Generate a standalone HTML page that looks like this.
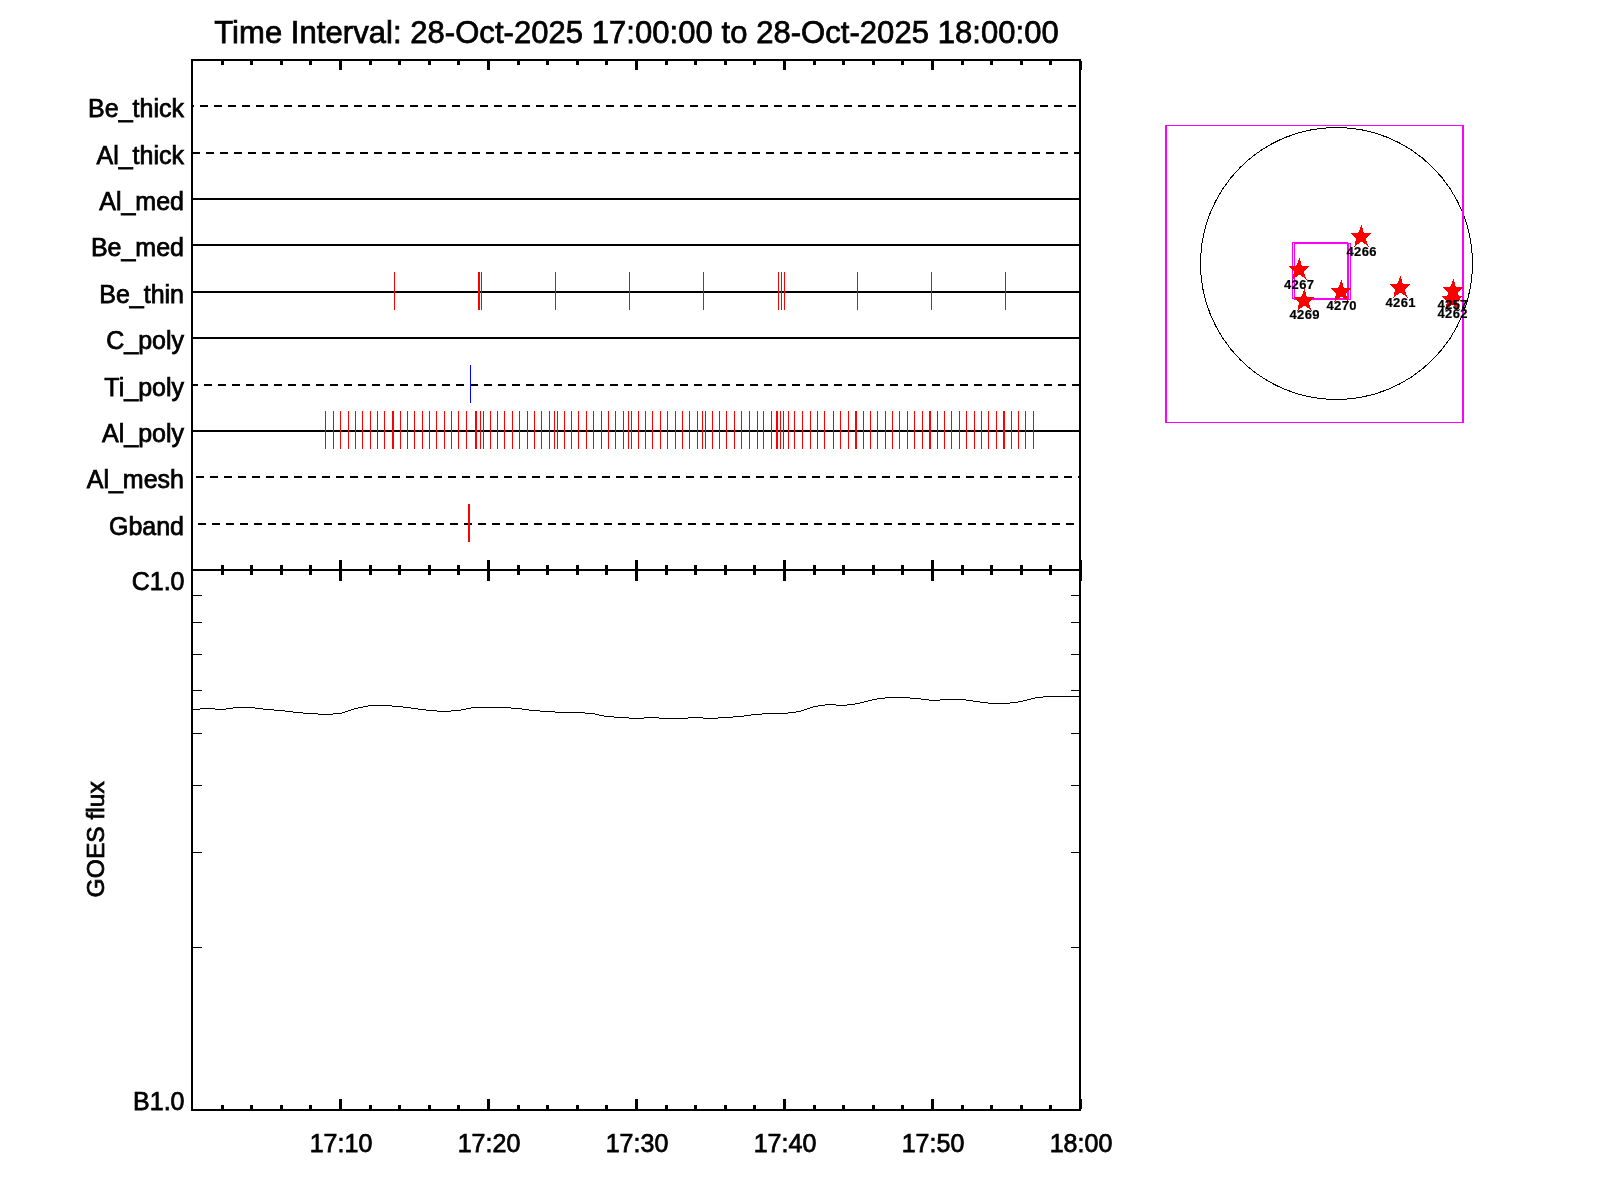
<!DOCTYPE html>
<html><head><meta charset="utf-8"><title>Plot</title>
<style>html,body{margin:0;padding:0;background:#fff;} svg{display:block;will-change:transform;}</style></head>
<body><svg width="1600" height="1200" viewBox="0 0 1600 1200">
<rect x="0" y="0" width="1600" height="1200" fill="#fff"/>
<g shape-rendering="crispEdges">
<rect x="191" y="59" width="890" height="2" fill="#000"/>
<rect x="191" y="59" width="2" height="1052" fill="#000"/>
<rect x="1079" y="59" width="2" height="1052" fill="#000"/>
<rect x="191" y="569" width="890" height="2" fill="#000"/>
<rect x="191" y="1109" width="890" height="2" fill="#000"/>
<rect x="221" y="61" width="3" height="4" fill="#000"/>
<rect x="221" y="565" width="3" height="10" fill="#000"/>
<rect x="221" y="1105" width="3" height="4" fill="#000"/>
<rect x="250" y="61" width="3" height="4" fill="#000"/>
<rect x="250" y="565" width="3" height="10" fill="#000"/>
<rect x="250" y="1105" width="3" height="4" fill="#000"/>
<rect x="280" y="61" width="3" height="4" fill="#000"/>
<rect x="280" y="565" width="3" height="10" fill="#000"/>
<rect x="280" y="1105" width="3" height="4" fill="#000"/>
<rect x="309" y="61" width="3" height="4" fill="#000"/>
<rect x="309" y="565" width="3" height="10" fill="#000"/>
<rect x="309" y="1105" width="3" height="4" fill="#000"/>
<rect x="339" y="61" width="3" height="9" fill="#000"/>
<rect x="339" y="560" width="3" height="21" fill="#000"/>
<rect x="339" y="1099" width="3" height="10" fill="#000"/>
<rect x="369" y="61" width="3" height="4" fill="#000"/>
<rect x="369" y="565" width="3" height="10" fill="#000"/>
<rect x="369" y="1105" width="3" height="4" fill="#000"/>
<rect x="398" y="61" width="3" height="4" fill="#000"/>
<rect x="398" y="565" width="3" height="10" fill="#000"/>
<rect x="398" y="1105" width="3" height="4" fill="#000"/>
<rect x="428" y="61" width="3" height="4" fill="#000"/>
<rect x="428" y="565" width="3" height="10" fill="#000"/>
<rect x="428" y="1105" width="3" height="4" fill="#000"/>
<rect x="457" y="61" width="3" height="4" fill="#000"/>
<rect x="457" y="565" width="3" height="10" fill="#000"/>
<rect x="457" y="1105" width="3" height="4" fill="#000"/>
<rect x="487" y="61" width="3" height="9" fill="#000"/>
<rect x="487" y="560" width="3" height="21" fill="#000"/>
<rect x="487" y="1099" width="3" height="10" fill="#000"/>
<rect x="517" y="61" width="3" height="4" fill="#000"/>
<rect x="517" y="565" width="3" height="10" fill="#000"/>
<rect x="517" y="1105" width="3" height="4" fill="#000"/>
<rect x="546" y="61" width="3" height="4" fill="#000"/>
<rect x="546" y="565" width="3" height="10" fill="#000"/>
<rect x="546" y="1105" width="3" height="4" fill="#000"/>
<rect x="576" y="61" width="3" height="4" fill="#000"/>
<rect x="576" y="565" width="3" height="10" fill="#000"/>
<rect x="576" y="1105" width="3" height="4" fill="#000"/>
<rect x="605" y="61" width="3" height="4" fill="#000"/>
<rect x="605" y="565" width="3" height="10" fill="#000"/>
<rect x="605" y="1105" width="3" height="4" fill="#000"/>
<rect x="635" y="61" width="3" height="9" fill="#000"/>
<rect x="635" y="560" width="3" height="21" fill="#000"/>
<rect x="635" y="1099" width="3" height="10" fill="#000"/>
<rect x="665" y="61" width="3" height="4" fill="#000"/>
<rect x="665" y="565" width="3" height="10" fill="#000"/>
<rect x="665" y="1105" width="3" height="4" fill="#000"/>
<rect x="694" y="61" width="3" height="4" fill="#000"/>
<rect x="694" y="565" width="3" height="10" fill="#000"/>
<rect x="694" y="1105" width="3" height="4" fill="#000"/>
<rect x="724" y="61" width="3" height="4" fill="#000"/>
<rect x="724" y="565" width="3" height="10" fill="#000"/>
<rect x="724" y="1105" width="3" height="4" fill="#000"/>
<rect x="753" y="61" width="3" height="4" fill="#000"/>
<rect x="753" y="565" width="3" height="10" fill="#000"/>
<rect x="753" y="1105" width="3" height="4" fill="#000"/>
<rect x="783" y="61" width="3" height="9" fill="#000"/>
<rect x="783" y="560" width="3" height="21" fill="#000"/>
<rect x="783" y="1099" width="3" height="10" fill="#000"/>
<rect x="813" y="61" width="3" height="4" fill="#000"/>
<rect x="813" y="565" width="3" height="10" fill="#000"/>
<rect x="813" y="1105" width="3" height="4" fill="#000"/>
<rect x="842" y="61" width="3" height="4" fill="#000"/>
<rect x="842" y="565" width="3" height="10" fill="#000"/>
<rect x="842" y="1105" width="3" height="4" fill="#000"/>
<rect x="872" y="61" width="3" height="4" fill="#000"/>
<rect x="872" y="565" width="3" height="10" fill="#000"/>
<rect x="872" y="1105" width="3" height="4" fill="#000"/>
<rect x="901" y="61" width="3" height="4" fill="#000"/>
<rect x="901" y="565" width="3" height="10" fill="#000"/>
<rect x="901" y="1105" width="3" height="4" fill="#000"/>
<rect x="931" y="61" width="3" height="9" fill="#000"/>
<rect x="931" y="560" width="3" height="21" fill="#000"/>
<rect x="931" y="1099" width="3" height="10" fill="#000"/>
<rect x="961" y="61" width="3" height="4" fill="#000"/>
<rect x="961" y="565" width="3" height="10" fill="#000"/>
<rect x="961" y="1105" width="3" height="4" fill="#000"/>
<rect x="990" y="61" width="3" height="4" fill="#000"/>
<rect x="990" y="565" width="3" height="10" fill="#000"/>
<rect x="990" y="1105" width="3" height="4" fill="#000"/>
<rect x="1020" y="61" width="3" height="4" fill="#000"/>
<rect x="1020" y="565" width="3" height="10" fill="#000"/>
<rect x="1020" y="1105" width="3" height="4" fill="#000"/>
<rect x="1049" y="61" width="3" height="4" fill="#000"/>
<rect x="1049" y="565" width="3" height="10" fill="#000"/>
<rect x="1049" y="1105" width="3" height="4" fill="#000"/>
<rect x="1079" y="61" width="3" height="9" fill="#000"/>
<rect x="1079" y="560" width="3" height="21" fill="#000"/>
<rect x="1079" y="1099" width="3" height="10" fill="#000"/>
<rect x="193" y="947" width="9" height="1" fill="#000"/>
<rect x="1071" y="947" width="8" height="1" fill="#000"/>
<rect x="193" y="852" width="9" height="1" fill="#000"/>
<rect x="1071" y="852" width="8" height="1" fill="#000"/>
<rect x="193" y="785" width="9" height="1" fill="#000"/>
<rect x="1071" y="785" width="8" height="1" fill="#000"/>
<rect x="193" y="733" width="9" height="1" fill="#000"/>
<rect x="1071" y="733" width="8" height="1" fill="#000"/>
<rect x="193" y="690" width="9" height="1" fill="#000"/>
<rect x="1071" y="690" width="8" height="1" fill="#000"/>
<rect x="193" y="654" width="9" height="1" fill="#000"/>
<rect x="1071" y="654" width="8" height="1" fill="#000"/>
<rect x="193" y="622" width="9" height="1" fill="#000"/>
<rect x="1071" y="622" width="8" height="1" fill="#000"/>
<rect x="193" y="595" width="9" height="1" fill="#000"/>
<rect x="1071" y="595" width="8" height="1" fill="#000"/>
<rect x="193" y="105" width="1" height="2" fill="#000"/>
<rect x="200" y="105" width="8" height="2" fill="#000"/>
<rect x="214" y="105" width="8" height="2" fill="#000"/>
<rect x="228" y="105" width="8" height="2" fill="#000"/>
<rect x="242" y="105" width="8" height="2" fill="#000"/>
<rect x="256" y="105" width="8" height="2" fill="#000"/>
<rect x="270" y="105" width="8" height="2" fill="#000"/>
<rect x="284" y="105" width="8" height="2" fill="#000"/>
<rect x="298" y="105" width="8" height="2" fill="#000"/>
<rect x="312" y="105" width="8" height="2" fill="#000"/>
<rect x="326" y="105" width="8" height="2" fill="#000"/>
<rect x="340" y="105" width="8" height="2" fill="#000"/>
<rect x="354" y="105" width="8" height="2" fill="#000"/>
<rect x="368" y="105" width="8" height="2" fill="#000"/>
<rect x="382" y="105" width="8" height="2" fill="#000"/>
<rect x="396" y="105" width="8" height="2" fill="#000"/>
<rect x="410" y="105" width="8" height="2" fill="#000"/>
<rect x="424" y="105" width="8" height="2" fill="#000"/>
<rect x="438" y="105" width="8" height="2" fill="#000"/>
<rect x="452" y="105" width="8" height="2" fill="#000"/>
<rect x="466" y="105" width="8" height="2" fill="#000"/>
<rect x="480" y="105" width="8" height="2" fill="#000"/>
<rect x="494" y="105" width="8" height="2" fill="#000"/>
<rect x="508" y="105" width="8" height="2" fill="#000"/>
<rect x="522" y="105" width="8" height="2" fill="#000"/>
<rect x="536" y="105" width="8" height="2" fill="#000"/>
<rect x="550" y="105" width="8" height="2" fill="#000"/>
<rect x="564" y="105" width="8" height="2" fill="#000"/>
<rect x="578" y="105" width="8" height="2" fill="#000"/>
<rect x="592" y="105" width="8" height="2" fill="#000"/>
<rect x="606" y="105" width="8" height="2" fill="#000"/>
<rect x="620" y="105" width="8" height="2" fill="#000"/>
<rect x="634" y="105" width="8" height="2" fill="#000"/>
<rect x="648" y="105" width="8" height="2" fill="#000"/>
<rect x="662" y="105" width="8" height="2" fill="#000"/>
<rect x="676" y="105" width="8" height="2" fill="#000"/>
<rect x="690" y="105" width="8" height="2" fill="#000"/>
<rect x="704" y="105" width="8" height="2" fill="#000"/>
<rect x="718" y="105" width="8" height="2" fill="#000"/>
<rect x="732" y="105" width="8" height="2" fill="#000"/>
<rect x="746" y="105" width="8" height="2" fill="#000"/>
<rect x="760" y="105" width="8" height="2" fill="#000"/>
<rect x="774" y="105" width="8" height="2" fill="#000"/>
<rect x="788" y="105" width="8" height="2" fill="#000"/>
<rect x="802" y="105" width="8" height="2" fill="#000"/>
<rect x="816" y="105" width="8" height="2" fill="#000"/>
<rect x="830" y="105" width="8" height="2" fill="#000"/>
<rect x="844" y="105" width="8" height="2" fill="#000"/>
<rect x="858" y="105" width="8" height="2" fill="#000"/>
<rect x="872" y="105" width="8" height="2" fill="#000"/>
<rect x="886" y="105" width="8" height="2" fill="#000"/>
<rect x="900" y="105" width="8" height="2" fill="#000"/>
<rect x="914" y="105" width="8" height="2" fill="#000"/>
<rect x="928" y="105" width="8" height="2" fill="#000"/>
<rect x="942" y="105" width="8" height="2" fill="#000"/>
<rect x="956" y="105" width="8" height="2" fill="#000"/>
<rect x="970" y="105" width="8" height="2" fill="#000"/>
<rect x="984" y="105" width="8" height="2" fill="#000"/>
<rect x="998" y="105" width="8" height="2" fill="#000"/>
<rect x="1012" y="105" width="8" height="2" fill="#000"/>
<rect x="1026" y="105" width="8" height="2" fill="#000"/>
<rect x="1040" y="105" width="8" height="2" fill="#000"/>
<rect x="1054" y="105" width="8" height="2" fill="#000"/>
<rect x="1068" y="105" width="8" height="2" fill="#000"/>
<rect x="193" y="152" width="7" height="2" fill="#000"/>
<rect x="206" y="152" width="8" height="2" fill="#000"/>
<rect x="220" y="152" width="8" height="2" fill="#000"/>
<rect x="234" y="152" width="8" height="2" fill="#000"/>
<rect x="248" y="152" width="8" height="2" fill="#000"/>
<rect x="262" y="152" width="8" height="2" fill="#000"/>
<rect x="276" y="152" width="8" height="2" fill="#000"/>
<rect x="290" y="152" width="8" height="2" fill="#000"/>
<rect x="304" y="152" width="8" height="2" fill="#000"/>
<rect x="318" y="152" width="8" height="2" fill="#000"/>
<rect x="332" y="152" width="8" height="2" fill="#000"/>
<rect x="346" y="152" width="8" height="2" fill="#000"/>
<rect x="360" y="152" width="8" height="2" fill="#000"/>
<rect x="374" y="152" width="8" height="2" fill="#000"/>
<rect x="388" y="152" width="8" height="2" fill="#000"/>
<rect x="402" y="152" width="8" height="2" fill="#000"/>
<rect x="416" y="152" width="8" height="2" fill="#000"/>
<rect x="430" y="152" width="8" height="2" fill="#000"/>
<rect x="444" y="152" width="8" height="2" fill="#000"/>
<rect x="458" y="152" width="8" height="2" fill="#000"/>
<rect x="472" y="152" width="8" height="2" fill="#000"/>
<rect x="486" y="152" width="8" height="2" fill="#000"/>
<rect x="500" y="152" width="8" height="2" fill="#000"/>
<rect x="514" y="152" width="8" height="2" fill="#000"/>
<rect x="528" y="152" width="8" height="2" fill="#000"/>
<rect x="542" y="152" width="8" height="2" fill="#000"/>
<rect x="556" y="152" width="8" height="2" fill="#000"/>
<rect x="570" y="152" width="8" height="2" fill="#000"/>
<rect x="584" y="152" width="8" height="2" fill="#000"/>
<rect x="598" y="152" width="8" height="2" fill="#000"/>
<rect x="612" y="152" width="8" height="2" fill="#000"/>
<rect x="626" y="152" width="8" height="2" fill="#000"/>
<rect x="640" y="152" width="8" height="2" fill="#000"/>
<rect x="654" y="152" width="8" height="2" fill="#000"/>
<rect x="668" y="152" width="8" height="2" fill="#000"/>
<rect x="682" y="152" width="8" height="2" fill="#000"/>
<rect x="696" y="152" width="8" height="2" fill="#000"/>
<rect x="710" y="152" width="8" height="2" fill="#000"/>
<rect x="724" y="152" width="8" height="2" fill="#000"/>
<rect x="738" y="152" width="8" height="2" fill="#000"/>
<rect x="752" y="152" width="8" height="2" fill="#000"/>
<rect x="766" y="152" width="8" height="2" fill="#000"/>
<rect x="780" y="152" width="8" height="2" fill="#000"/>
<rect x="794" y="152" width="8" height="2" fill="#000"/>
<rect x="808" y="152" width="8" height="2" fill="#000"/>
<rect x="822" y="152" width="8" height="2" fill="#000"/>
<rect x="836" y="152" width="8" height="2" fill="#000"/>
<rect x="850" y="152" width="8" height="2" fill="#000"/>
<rect x="864" y="152" width="8" height="2" fill="#000"/>
<rect x="878" y="152" width="8" height="2" fill="#000"/>
<rect x="892" y="152" width="8" height="2" fill="#000"/>
<rect x="906" y="152" width="8" height="2" fill="#000"/>
<rect x="920" y="152" width="8" height="2" fill="#000"/>
<rect x="934" y="152" width="8" height="2" fill="#000"/>
<rect x="948" y="152" width="8" height="2" fill="#000"/>
<rect x="962" y="152" width="8" height="2" fill="#000"/>
<rect x="976" y="152" width="8" height="2" fill="#000"/>
<rect x="990" y="152" width="8" height="2" fill="#000"/>
<rect x="1004" y="152" width="8" height="2" fill="#000"/>
<rect x="1018" y="152" width="8" height="2" fill="#000"/>
<rect x="1032" y="152" width="8" height="2" fill="#000"/>
<rect x="1046" y="152" width="8" height="2" fill="#000"/>
<rect x="1060" y="152" width="8" height="2" fill="#000"/>
<rect x="1074" y="152" width="5" height="2" fill="#000"/>
<rect x="193" y="198" width="886" height="2" fill="#000"/>
<rect x="193" y="244" width="886" height="2" fill="#000"/>
<rect x="193" y="291" width="886" height="2" fill="#000"/>
<rect x="193" y="337" width="886" height="2" fill="#000"/>
<rect x="193" y="384" width="5" height="2" fill="#000"/>
<rect x="204" y="384" width="8" height="2" fill="#000"/>
<rect x="218" y="384" width="8" height="2" fill="#000"/>
<rect x="232" y="384" width="8" height="2" fill="#000"/>
<rect x="246" y="384" width="8" height="2" fill="#000"/>
<rect x="260" y="384" width="8" height="2" fill="#000"/>
<rect x="274" y="384" width="8" height="2" fill="#000"/>
<rect x="288" y="384" width="8" height="2" fill="#000"/>
<rect x="302" y="384" width="8" height="2" fill="#000"/>
<rect x="316" y="384" width="8" height="2" fill="#000"/>
<rect x="330" y="384" width="8" height="2" fill="#000"/>
<rect x="344" y="384" width="8" height="2" fill="#000"/>
<rect x="358" y="384" width="8" height="2" fill="#000"/>
<rect x="372" y="384" width="8" height="2" fill="#000"/>
<rect x="386" y="384" width="8" height="2" fill="#000"/>
<rect x="400" y="384" width="8" height="2" fill="#000"/>
<rect x="414" y="384" width="8" height="2" fill="#000"/>
<rect x="428" y="384" width="8" height="2" fill="#000"/>
<rect x="442" y="384" width="8" height="2" fill="#000"/>
<rect x="456" y="384" width="8" height="2" fill="#000"/>
<rect x="470" y="384" width="8" height="2" fill="#000"/>
<rect x="484" y="384" width="8" height="2" fill="#000"/>
<rect x="498" y="384" width="8" height="2" fill="#000"/>
<rect x="512" y="384" width="8" height="2" fill="#000"/>
<rect x="526" y="384" width="8" height="2" fill="#000"/>
<rect x="540" y="384" width="8" height="2" fill="#000"/>
<rect x="554" y="384" width="8" height="2" fill="#000"/>
<rect x="568" y="384" width="8" height="2" fill="#000"/>
<rect x="582" y="384" width="8" height="2" fill="#000"/>
<rect x="596" y="384" width="8" height="2" fill="#000"/>
<rect x="610" y="384" width="8" height="2" fill="#000"/>
<rect x="624" y="384" width="8" height="2" fill="#000"/>
<rect x="638" y="384" width="8" height="2" fill="#000"/>
<rect x="652" y="384" width="8" height="2" fill="#000"/>
<rect x="666" y="384" width="8" height="2" fill="#000"/>
<rect x="680" y="384" width="8" height="2" fill="#000"/>
<rect x="694" y="384" width="8" height="2" fill="#000"/>
<rect x="708" y="384" width="8" height="2" fill="#000"/>
<rect x="722" y="384" width="8" height="2" fill="#000"/>
<rect x="736" y="384" width="8" height="2" fill="#000"/>
<rect x="750" y="384" width="8" height="2" fill="#000"/>
<rect x="764" y="384" width="8" height="2" fill="#000"/>
<rect x="778" y="384" width="8" height="2" fill="#000"/>
<rect x="792" y="384" width="8" height="2" fill="#000"/>
<rect x="806" y="384" width="8" height="2" fill="#000"/>
<rect x="820" y="384" width="8" height="2" fill="#000"/>
<rect x="834" y="384" width="8" height="2" fill="#000"/>
<rect x="848" y="384" width="8" height="2" fill="#000"/>
<rect x="862" y="384" width="8" height="2" fill="#000"/>
<rect x="876" y="384" width="8" height="2" fill="#000"/>
<rect x="890" y="384" width="8" height="2" fill="#000"/>
<rect x="904" y="384" width="8" height="2" fill="#000"/>
<rect x="918" y="384" width="8" height="2" fill="#000"/>
<rect x="932" y="384" width="8" height="2" fill="#000"/>
<rect x="946" y="384" width="8" height="2" fill="#000"/>
<rect x="960" y="384" width="8" height="2" fill="#000"/>
<rect x="974" y="384" width="8" height="2" fill="#000"/>
<rect x="988" y="384" width="8" height="2" fill="#000"/>
<rect x="1002" y="384" width="8" height="2" fill="#000"/>
<rect x="1016" y="384" width="8" height="2" fill="#000"/>
<rect x="1030" y="384" width="8" height="2" fill="#000"/>
<rect x="1044" y="384" width="8" height="2" fill="#000"/>
<rect x="1058" y="384" width="8" height="2" fill="#000"/>
<rect x="1072" y="384" width="7" height="2" fill="#000"/>
<rect x="193" y="430" width="886" height="2" fill="#000"/>
<rect x="196" y="476" width="8" height="2" fill="#000"/>
<rect x="210" y="476" width="8" height="2" fill="#000"/>
<rect x="224" y="476" width="8" height="2" fill="#000"/>
<rect x="238" y="476" width="8" height="2" fill="#000"/>
<rect x="252" y="476" width="8" height="2" fill="#000"/>
<rect x="266" y="476" width="8" height="2" fill="#000"/>
<rect x="280" y="476" width="8" height="2" fill="#000"/>
<rect x="294" y="476" width="8" height="2" fill="#000"/>
<rect x="308" y="476" width="8" height="2" fill="#000"/>
<rect x="322" y="476" width="8" height="2" fill="#000"/>
<rect x="336" y="476" width="8" height="2" fill="#000"/>
<rect x="350" y="476" width="8" height="2" fill="#000"/>
<rect x="364" y="476" width="8" height="2" fill="#000"/>
<rect x="378" y="476" width="8" height="2" fill="#000"/>
<rect x="392" y="476" width="8" height="2" fill="#000"/>
<rect x="406" y="476" width="8" height="2" fill="#000"/>
<rect x="420" y="476" width="8" height="2" fill="#000"/>
<rect x="434" y="476" width="8" height="2" fill="#000"/>
<rect x="448" y="476" width="8" height="2" fill="#000"/>
<rect x="462" y="476" width="8" height="2" fill="#000"/>
<rect x="476" y="476" width="8" height="2" fill="#000"/>
<rect x="490" y="476" width="8" height="2" fill="#000"/>
<rect x="504" y="476" width="8" height="2" fill="#000"/>
<rect x="518" y="476" width="8" height="2" fill="#000"/>
<rect x="532" y="476" width="8" height="2" fill="#000"/>
<rect x="546" y="476" width="8" height="2" fill="#000"/>
<rect x="560" y="476" width="8" height="2" fill="#000"/>
<rect x="574" y="476" width="8" height="2" fill="#000"/>
<rect x="588" y="476" width="8" height="2" fill="#000"/>
<rect x="602" y="476" width="8" height="2" fill="#000"/>
<rect x="616" y="476" width="8" height="2" fill="#000"/>
<rect x="630" y="476" width="8" height="2" fill="#000"/>
<rect x="644" y="476" width="8" height="2" fill="#000"/>
<rect x="658" y="476" width="8" height="2" fill="#000"/>
<rect x="672" y="476" width="8" height="2" fill="#000"/>
<rect x="686" y="476" width="8" height="2" fill="#000"/>
<rect x="700" y="476" width="8" height="2" fill="#000"/>
<rect x="714" y="476" width="8" height="2" fill="#000"/>
<rect x="728" y="476" width="8" height="2" fill="#000"/>
<rect x="742" y="476" width="8" height="2" fill="#000"/>
<rect x="756" y="476" width="8" height="2" fill="#000"/>
<rect x="770" y="476" width="8" height="2" fill="#000"/>
<rect x="784" y="476" width="8" height="2" fill="#000"/>
<rect x="798" y="476" width="8" height="2" fill="#000"/>
<rect x="812" y="476" width="8" height="2" fill="#000"/>
<rect x="826" y="476" width="8" height="2" fill="#000"/>
<rect x="840" y="476" width="8" height="2" fill="#000"/>
<rect x="854" y="476" width="8" height="2" fill="#000"/>
<rect x="868" y="476" width="8" height="2" fill="#000"/>
<rect x="882" y="476" width="8" height="2" fill="#000"/>
<rect x="896" y="476" width="8" height="2" fill="#000"/>
<rect x="910" y="476" width="8" height="2" fill="#000"/>
<rect x="924" y="476" width="8" height="2" fill="#000"/>
<rect x="938" y="476" width="8" height="2" fill="#000"/>
<rect x="952" y="476" width="8" height="2" fill="#000"/>
<rect x="966" y="476" width="8" height="2" fill="#000"/>
<rect x="980" y="476" width="8" height="2" fill="#000"/>
<rect x="994" y="476" width="8" height="2" fill="#000"/>
<rect x="1008" y="476" width="8" height="2" fill="#000"/>
<rect x="1022" y="476" width="8" height="2" fill="#000"/>
<rect x="1036" y="476" width="8" height="2" fill="#000"/>
<rect x="1050" y="476" width="8" height="2" fill="#000"/>
<rect x="1064" y="476" width="8" height="2" fill="#000"/>
<rect x="1078" y="476" width="1" height="2" fill="#000"/>
<rect x="198" y="523" width="8" height="2" fill="#000"/>
<rect x="212" y="523" width="8" height="2" fill="#000"/>
<rect x="226" y="523" width="8" height="2" fill="#000"/>
<rect x="240" y="523" width="8" height="2" fill="#000"/>
<rect x="254" y="523" width="8" height="2" fill="#000"/>
<rect x="268" y="523" width="8" height="2" fill="#000"/>
<rect x="282" y="523" width="8" height="2" fill="#000"/>
<rect x="296" y="523" width="8" height="2" fill="#000"/>
<rect x="310" y="523" width="8" height="2" fill="#000"/>
<rect x="324" y="523" width="8" height="2" fill="#000"/>
<rect x="338" y="523" width="8" height="2" fill="#000"/>
<rect x="352" y="523" width="8" height="2" fill="#000"/>
<rect x="366" y="523" width="8" height="2" fill="#000"/>
<rect x="380" y="523" width="8" height="2" fill="#000"/>
<rect x="394" y="523" width="8" height="2" fill="#000"/>
<rect x="408" y="523" width="8" height="2" fill="#000"/>
<rect x="422" y="523" width="8" height="2" fill="#000"/>
<rect x="436" y="523" width="8" height="2" fill="#000"/>
<rect x="450" y="523" width="8" height="2" fill="#000"/>
<rect x="464" y="523" width="8" height="2" fill="#000"/>
<rect x="478" y="523" width="8" height="2" fill="#000"/>
<rect x="492" y="523" width="8" height="2" fill="#000"/>
<rect x="506" y="523" width="8" height="2" fill="#000"/>
<rect x="520" y="523" width="8" height="2" fill="#000"/>
<rect x="534" y="523" width="8" height="2" fill="#000"/>
<rect x="548" y="523" width="8" height="2" fill="#000"/>
<rect x="562" y="523" width="8" height="2" fill="#000"/>
<rect x="576" y="523" width="8" height="2" fill="#000"/>
<rect x="590" y="523" width="8" height="2" fill="#000"/>
<rect x="604" y="523" width="8" height="2" fill="#000"/>
<rect x="618" y="523" width="8" height="2" fill="#000"/>
<rect x="632" y="523" width="8" height="2" fill="#000"/>
<rect x="646" y="523" width="8" height="2" fill="#000"/>
<rect x="660" y="523" width="8" height="2" fill="#000"/>
<rect x="674" y="523" width="8" height="2" fill="#000"/>
<rect x="688" y="523" width="8" height="2" fill="#000"/>
<rect x="702" y="523" width="8" height="2" fill="#000"/>
<rect x="716" y="523" width="8" height="2" fill="#000"/>
<rect x="730" y="523" width="8" height="2" fill="#000"/>
<rect x="744" y="523" width="8" height="2" fill="#000"/>
<rect x="758" y="523" width="8" height="2" fill="#000"/>
<rect x="772" y="523" width="8" height="2" fill="#000"/>
<rect x="786" y="523" width="8" height="2" fill="#000"/>
<rect x="800" y="523" width="8" height="2" fill="#000"/>
<rect x="814" y="523" width="8" height="2" fill="#000"/>
<rect x="828" y="523" width="8" height="2" fill="#000"/>
<rect x="842" y="523" width="8" height="2" fill="#000"/>
<rect x="856" y="523" width="8" height="2" fill="#000"/>
<rect x="870" y="523" width="8" height="2" fill="#000"/>
<rect x="884" y="523" width="8" height="2" fill="#000"/>
<rect x="898" y="523" width="8" height="2" fill="#000"/>
<rect x="912" y="523" width="8" height="2" fill="#000"/>
<rect x="926" y="523" width="8" height="2" fill="#000"/>
<rect x="940" y="523" width="8" height="2" fill="#000"/>
<rect x="954" y="523" width="8" height="2" fill="#000"/>
<rect x="968" y="523" width="8" height="2" fill="#000"/>
<rect x="982" y="523" width="8" height="2" fill="#000"/>
<rect x="996" y="523" width="8" height="2" fill="#000"/>
<rect x="1010" y="523" width="8" height="2" fill="#000"/>
<rect x="1024" y="523" width="8" height="2" fill="#000"/>
<rect x="1038" y="523" width="8" height="2" fill="#000"/>
<rect x="1052" y="523" width="8" height="2" fill="#000"/>
<rect x="1066" y="523" width="8" height="2" fill="#000"/>
<rect x="394" y="272" width="1" height="38" fill="#ff0000"/>
<rect x="478" y="272" width="1" height="38" fill="#ff0000"/>
<rect x="479" y="272" width="1" height="38" fill="#ff0000"/>
<rect x="481" y="272" width="1" height="38" fill="#ff0000"/>
<rect x="555" y="272" width="1" height="38" fill="#ff0000"/>
<rect x="629" y="272" width="1" height="38" fill="#ff0000"/>
<rect x="703" y="272" width="1" height="38" fill="#ff0000"/>
<rect x="778" y="272" width="1" height="38" fill="#ff0000"/>
<rect x="781" y="272" width="1" height="38" fill="#ff0000"/>
<rect x="784" y="272" width="1" height="38" fill="#ff0000"/>
<rect x="857" y="272" width="1" height="38" fill="#ff0000"/>
<rect x="931" y="272" width="1" height="38" fill="#ff0000"/>
<rect x="1005" y="272" width="1" height="38" fill="#ff0000"/>
<rect x="325" y="411" width="1" height="38" fill="#ff0000"/>
<rect x="333" y="411" width="1" height="38" fill="#ff0000"/>
<rect x="340" y="411" width="1" height="38" fill="#ff0000"/>
<rect x="348" y="411" width="1" height="38" fill="#ff0000"/>
<rect x="355" y="411" width="1" height="38" fill="#ff0000"/>
<rect x="362" y="411" width="1" height="38" fill="#ff0000"/>
<rect x="370" y="411" width="1" height="38" fill="#ff0000"/>
<rect x="377" y="411" width="1" height="38" fill="#ff0000"/>
<rect x="384" y="411" width="1" height="38" fill="#ff0000"/>
<rect x="392" y="411" width="1" height="38" fill="#ff0000"/>
<rect x="393" y="411" width="1" height="38" fill="#ff0000"/>
<rect x="400" y="411" width="1" height="38" fill="#ff0000"/>
<rect x="407" y="411" width="1" height="38" fill="#ff0000"/>
<rect x="414" y="411" width="1" height="38" fill="#ff0000"/>
<rect x="422" y="411" width="1" height="38" fill="#ff0000"/>
<rect x="429" y="411" width="1" height="38" fill="#ff0000"/>
<rect x="436" y="411" width="1" height="38" fill="#ff0000"/>
<rect x="444" y="411" width="1" height="38" fill="#ff0000"/>
<rect x="451" y="411" width="1" height="38" fill="#ff0000"/>
<rect x="458" y="411" width="1" height="38" fill="#ff0000"/>
<rect x="466" y="411" width="1" height="38" fill="#ff0000"/>
<rect x="475" y="411" width="1" height="38" fill="#ff0000"/>
<rect x="476" y="411" width="1" height="38" fill="#ff0000"/>
<rect x="480" y="411" width="1" height="38" fill="#ff0000"/>
<rect x="483" y="411" width="1" height="38" fill="#ff0000"/>
<rect x="490" y="411" width="1" height="38" fill="#ff0000"/>
<rect x="497" y="411" width="1" height="38" fill="#ff0000"/>
<rect x="504" y="411" width="1" height="38" fill="#ff0000"/>
<rect x="512" y="411" width="1" height="38" fill="#ff0000"/>
<rect x="519" y="411" width="1" height="38" fill="#ff0000"/>
<rect x="527" y="411" width="1" height="38" fill="#ff0000"/>
<rect x="534" y="411" width="1" height="38" fill="#ff0000"/>
<rect x="541" y="411" width="1" height="38" fill="#ff0000"/>
<rect x="549" y="411" width="1" height="38" fill="#ff0000"/>
<rect x="554" y="411" width="1" height="38" fill="#ff0000"/>
<rect x="557" y="411" width="1" height="38" fill="#ff0000"/>
<rect x="564" y="411" width="1" height="38" fill="#ff0000"/>
<rect x="571" y="411" width="1" height="38" fill="#ff0000"/>
<rect x="578" y="411" width="1" height="38" fill="#ff0000"/>
<rect x="586" y="411" width="1" height="38" fill="#ff0000"/>
<rect x="593" y="411" width="1" height="38" fill="#ff0000"/>
<rect x="601" y="411" width="1" height="38" fill="#ff0000"/>
<rect x="608" y="411" width="1" height="38" fill="#ff0000"/>
<rect x="615" y="411" width="1" height="38" fill="#ff0000"/>
<rect x="623" y="411" width="1" height="38" fill="#ff0000"/>
<rect x="628" y="411" width="1" height="38" fill="#ff0000"/>
<rect x="631" y="411" width="1" height="38" fill="#ff0000"/>
<rect x="638" y="411" width="1" height="38" fill="#ff0000"/>
<rect x="645" y="411" width="1" height="38" fill="#ff0000"/>
<rect x="652" y="411" width="1" height="38" fill="#ff0000"/>
<rect x="660" y="411" width="1" height="38" fill="#ff0000"/>
<rect x="667" y="411" width="1" height="38" fill="#ff0000"/>
<rect x="675" y="411" width="1" height="38" fill="#ff0000"/>
<rect x="682" y="411" width="1" height="38" fill="#ff0000"/>
<rect x="689" y="411" width="1" height="38" fill="#ff0000"/>
<rect x="697" y="411" width="1" height="38" fill="#ff0000"/>
<rect x="702" y="411" width="1" height="38" fill="#ff0000"/>
<rect x="705" y="411" width="1" height="38" fill="#ff0000"/>
<rect x="712" y="411" width="1" height="38" fill="#ff0000"/>
<rect x="719" y="411" width="1" height="38" fill="#ff0000"/>
<rect x="726" y="411" width="1" height="38" fill="#ff0000"/>
<rect x="734" y="411" width="1" height="38" fill="#ff0000"/>
<rect x="741" y="411" width="1" height="38" fill="#ff0000"/>
<rect x="749" y="411" width="1" height="38" fill="#ff0000"/>
<rect x="757" y="411" width="1" height="38" fill="#ff0000"/>
<rect x="763" y="411" width="1" height="38" fill="#ff0000"/>
<rect x="771" y="411" width="1" height="38" fill="#ff0000"/>
<rect x="776" y="411" width="1" height="38" fill="#ff0000"/>
<rect x="777" y="411" width="1" height="38" fill="#ff0000"/>
<rect x="780" y="411" width="1" height="38" fill="#ff0000"/>
<rect x="783" y="411" width="1" height="38" fill="#ff0000"/>
<rect x="788" y="411" width="1" height="38" fill="#ff0000"/>
<rect x="794" y="411" width="1" height="38" fill="#ff0000"/>
<rect x="802" y="411" width="1" height="38" fill="#ff0000"/>
<rect x="810" y="411" width="1" height="38" fill="#ff0000"/>
<rect x="817" y="411" width="1" height="38" fill="#ff0000"/>
<rect x="824" y="411" width="1" height="38" fill="#ff0000"/>
<rect x="833" y="411" width="1" height="38" fill="#ff0000"/>
<rect x="840" y="411" width="1" height="38" fill="#ff0000"/>
<rect x="848" y="411" width="1" height="38" fill="#ff0000"/>
<rect x="855" y="411" width="1" height="38" fill="#ff0000"/>
<rect x="856" y="411" width="1" height="38" fill="#ff0000"/>
<rect x="863" y="411" width="1" height="38" fill="#ff0000"/>
<rect x="870" y="411" width="1" height="38" fill="#ff0000"/>
<rect x="877" y="411" width="1" height="38" fill="#ff0000"/>
<rect x="885" y="411" width="1" height="38" fill="#ff0000"/>
<rect x="892" y="411" width="1" height="38" fill="#ff0000"/>
<rect x="899" y="411" width="1" height="38" fill="#ff0000"/>
<rect x="907" y="411" width="1" height="38" fill="#ff0000"/>
<rect x="914" y="411" width="1" height="38" fill="#ff0000"/>
<rect x="922" y="411" width="1" height="38" fill="#ff0000"/>
<rect x="929" y="411" width="1" height="38" fill="#ff0000"/>
<rect x="930" y="411" width="1" height="38" fill="#ff0000"/>
<rect x="937" y="411" width="1" height="38" fill="#ff0000"/>
<rect x="944" y="411" width="1" height="38" fill="#ff0000"/>
<rect x="951" y="411" width="1" height="38" fill="#ff0000"/>
<rect x="959" y="411" width="1" height="38" fill="#ff0000"/>
<rect x="966" y="411" width="1" height="38" fill="#ff0000"/>
<rect x="974" y="411" width="1" height="38" fill="#ff0000"/>
<rect x="981" y="411" width="1" height="38" fill="#ff0000"/>
<rect x="988" y="411" width="1" height="38" fill="#ff0000"/>
<rect x="996" y="411" width="1" height="38" fill="#ff0000"/>
<rect x="1003" y="411" width="1" height="38" fill="#ff0000"/>
<rect x="1004" y="411" width="1" height="38" fill="#ff0000"/>
<rect x="1011" y="411" width="1" height="38" fill="#ff0000"/>
<rect x="1018" y="411" width="1" height="38" fill="#ff0000"/>
<rect x="1025" y="411" width="1" height="38" fill="#ff0000"/>
<rect x="1033" y="411" width="1" height="38" fill="#ff0000"/>
<rect x="470" y="365" width="1" height="38" fill="#0000ff"/>
<rect x="468" y="504" width="2" height="38" fill="#ff0000"/>
<rect x="193" y="709" width="7" height="1" fill="#000"/>
<rect x="200" y="708" width="15" height="1" fill="#000"/>
<rect x="215" y="709" width="11" height="1" fill="#000"/>
<rect x="226" y="708" width="7" height="1" fill="#000"/>
<rect x="233" y="707" width="22" height="1" fill="#000"/>
<rect x="255" y="708" width="8" height="1" fill="#000"/>
<rect x="263" y="709" width="11" height="1" fill="#000"/>
<rect x="274" y="710" width="11" height="1" fill="#000"/>
<rect x="285" y="711" width="8" height="1" fill="#000"/>
<rect x="293" y="712" width="10" height="1" fill="#000"/>
<rect x="303" y="713" width="15" height="1" fill="#000"/>
<rect x="318" y="714" width="15" height="1" fill="#000"/>
<rect x="333" y="713" width="9" height="1" fill="#000"/>
<rect x="342" y="712" width="3" height="1" fill="#000"/>
<rect x="345" y="711" width="3" height="1" fill="#000"/>
<rect x="348" y="710" width="3" height="1" fill="#000"/>
<rect x="351" y="709" width="3" height="1" fill="#000"/>
<rect x="354" y="708" width="4" height="1" fill="#000"/>
<rect x="358" y="707" width="5" height="1" fill="#000"/>
<rect x="363" y="706" width="5" height="1" fill="#000"/>
<rect x="368" y="705" width="24" height="1" fill="#000"/>
<rect x="392" y="706" width="11" height="1" fill="#000"/>
<rect x="403" y="707" width="8" height="1" fill="#000"/>
<rect x="411" y="708" width="7" height="1" fill="#000"/>
<rect x="418" y="709" width="8" height="1" fill="#000"/>
<rect x="426" y="710" width="11" height="1" fill="#000"/>
<rect x="437" y="711" width="14" height="1" fill="#000"/>
<rect x="451" y="710" width="10" height="1" fill="#000"/>
<rect x="461" y="709" width="5" height="1" fill="#000"/>
<rect x="466" y="708" width="5" height="1" fill="#000"/>
<rect x="471" y="707" width="40" height="1" fill="#000"/>
<rect x="511" y="708" width="11" height="1" fill="#000"/>
<rect x="522" y="709" width="7" height="1" fill="#000"/>
<rect x="529" y="710" width="11" height="1" fill="#000"/>
<rect x="540" y="711" width="15" height="1" fill="#000"/>
<rect x="555" y="712" width="30" height="1" fill="#000"/>
<rect x="585" y="713" width="10" height="1" fill="#000"/>
<rect x="595" y="714" width="4" height="1" fill="#000"/>
<rect x="599" y="715" width="5" height="1" fill="#000"/>
<rect x="604" y="716" width="10" height="1" fill="#000"/>
<rect x="614" y="717" width="15" height="1" fill="#000"/>
<rect x="629" y="718" width="15" height="1" fill="#000"/>
<rect x="644" y="717" width="15" height="1" fill="#000"/>
<rect x="659" y="718" width="29" height="1" fill="#000"/>
<rect x="688" y="717" width="15" height="1" fill="#000"/>
<rect x="703" y="718" width="15" height="1" fill="#000"/>
<rect x="718" y="717" width="15" height="1" fill="#000"/>
<rect x="733" y="716" width="11" height="1" fill="#000"/>
<rect x="744" y="715" width="7" height="1" fill="#000"/>
<rect x="751" y="714" width="11" height="1" fill="#000"/>
<rect x="762" y="713" width="26" height="1" fill="#000"/>
<rect x="788" y="712" width="8" height="1" fill="#000"/>
<rect x="796" y="711" width="5" height="1" fill="#000"/>
<rect x="801" y="710" width="3" height="1" fill="#000"/>
<rect x="804" y="709" width="3" height="1" fill="#000"/>
<rect x="807" y="708" width="3" height="1" fill="#000"/>
<rect x="810" y="707" width="3" height="1" fill="#000"/>
<rect x="813" y="706" width="5" height="1" fill="#000"/>
<rect x="818" y="705" width="7" height="1" fill="#000"/>
<rect x="825" y="704" width="11" height="1" fill="#000"/>
<rect x="836" y="705" width="11" height="1" fill="#000"/>
<rect x="847" y="704" width="8" height="1" fill="#000"/>
<rect x="855" y="703" width="5" height="1" fill="#000"/>
<rect x="860" y="702" width="4" height="1" fill="#000"/>
<rect x="864" y="701" width="4" height="1" fill="#000"/>
<rect x="868" y="700" width="4" height="1" fill="#000"/>
<rect x="872" y="699" width="5" height="1" fill="#000"/>
<rect x="877" y="698" width="8" height="1" fill="#000"/>
<rect x="885" y="697" width="25" height="1" fill="#000"/>
<rect x="910" y="698" width="11" height="1" fill="#000"/>
<rect x="921" y="699" width="8" height="1" fill="#000"/>
<rect x="929" y="700" width="11" height="1" fill="#000"/>
<rect x="940" y="699" width="26" height="1" fill="#000"/>
<rect x="966" y="700" width="7" height="1" fill="#000"/>
<rect x="973" y="701" width="7" height="1" fill="#000"/>
<rect x="980" y="702" width="8" height="1" fill="#000"/>
<rect x="988" y="703" width="22" height="1" fill="#000"/>
<rect x="1010" y="702" width="8" height="1" fill="#000"/>
<rect x="1018" y="701" width="5" height="1" fill="#000"/>
<rect x="1023" y="700" width="4" height="1" fill="#000"/>
<rect x="1027" y="699" width="4" height="1" fill="#000"/>
<rect x="1031" y="698" width="4" height="1" fill="#000"/>
<rect x="1035" y="697" width="8" height="1" fill="#000"/>
<rect x="1043" y="696" width="36" height="1" fill="#000"/>
</g>
<g fill="#000" stroke="#000" stroke-width="0.75">
<text x="636.5" y="43.2" text-anchor="middle" font-size="31" letter-spacing="0.05" font-family="Liberation Sans">Time Interval: 28-Oct-2025 17:00:00 to 28-Oct-2025 18:00:00</text>
<text x="184" y="116.7" text-anchor="end" font-size="25" font-family="Liberation Sans">Be_thick</text>
<text x="184" y="163.7" text-anchor="end" font-size="25" font-family="Liberation Sans">Al_thick</text>
<text x="184" y="209.7" text-anchor="end" font-size="25" font-family="Liberation Sans">Al_med</text>
<text x="184" y="255.7" text-anchor="end" font-size="25" font-family="Liberation Sans">Be_med</text>
<text x="184" y="302.7" text-anchor="end" font-size="25" font-family="Liberation Sans">Be_thin</text>
<text x="184" y="348.7" text-anchor="end" font-size="25" font-family="Liberation Sans">C_poly</text>
<text x="184" y="395.7" text-anchor="end" font-size="25" font-family="Liberation Sans">Ti_poly</text>
<text x="184" y="441.7" text-anchor="end" font-size="25" font-family="Liberation Sans">Al_poly</text>
<text x="184" y="487.7" text-anchor="end" font-size="25" font-family="Liberation Sans">Al_mesh</text>
<text x="184" y="534.7" text-anchor="end" font-size="25" font-family="Liberation Sans">Gband</text>
<text x="184.5" y="590.2" text-anchor="end" font-size="25" font-family="Liberation Sans">C1.0</text>
<text x="184.5" y="1109.7" text-anchor="end" font-size="25" font-family="Liberation Sans">B1.0</text>
<text x="341" y="1151.7" text-anchor="middle" font-size="25" font-family="Liberation Sans">17:10</text>
<text x="489" y="1151.7" text-anchor="middle" font-size="25" font-family="Liberation Sans">17:20</text>
<text x="637" y="1151.7" text-anchor="middle" font-size="25" font-family="Liberation Sans">17:30</text>
<text x="785" y="1151.7" text-anchor="middle" font-size="25" font-family="Liberation Sans">17:40</text>
<text x="933" y="1151.7" text-anchor="middle" font-size="25" font-family="Liberation Sans">17:50</text>
<text x="1081" y="1151.7" text-anchor="middle" font-size="25" font-family="Liberation Sans">18:00</text>
<text transform="translate(104,839.3) rotate(-90)" text-anchor="middle" font-size="24.6" font-family="Liberation Sans">GOES flux</text>
</g>
<circle cx="1336.5" cy="263.5" r="136" fill="none" stroke="#000" stroke-width="1" shape-rendering="crispEdges"/>
<rect x="1165" y="125" width="299" height="1" fill="#ff00ff"/>
<rect x="1165" y="422" width="299" height="1" fill="#ff00ff"/>
<rect x="1165" y="125" width="2" height="298" fill="#ff00ff"/>
<rect x="1462" y="125" width="2" height="298" fill="#ff00ff"/>
<rect x="1292" y="242" width="56" height="1" fill="#ff00ff"/>
<rect x="1292" y="298" width="56" height="1" fill="#ff00ff"/>
<rect x="1292" y="242" width="1" height="57" fill="#ff00ff"/>
<rect x="1347" y="242" width="1" height="57" fill="#ff00ff"/>
<rect x="1294" y="243" width="57" height="1" fill="#ff00ff"/>
<rect x="1294" y="299" width="57" height="1" fill="#ff00ff"/>
<rect x="1294" y="243" width="1" height="57" fill="#ff00ff"/>
<rect x="1350" y="243" width="1" height="57" fill="#ff00ff"/>
<rect x="1348" y="243" width="1" height="56" fill="#ff00ff"/>
<defs><g id="star"><rect x="0" y="0" width="1" height="1"/><rect x="0" y="1" width="1" height="1"/><rect x="-1" y="2" width="2" height="1"/><rect x="-1" y="3" width="3" height="1"/><rect x="-1" y="4" width="3" height="1"/><rect x="-2" y="5" width="4" height="1"/><rect x="-2" y="6" width="4" height="1"/><rect x="-3" y="7" width="6" height="1"/><rect x="-10" y="8" width="20" height="1"/><rect x="-9" y="9" width="18" height="1"/><rect x="-8" y="10" width="16" height="1"/><rect x="-7" y="11" width="14" height="1"/><rect x="-6" y="12" width="12" height="1"/><rect x="-5" y="13" width="10" height="1"/><rect x="-5" y="14" width="10" height="1"/><rect x="-5" y="15" width="10" height="1"/><rect x="-6" y="16" width="12" height="1"/><rect x="-6" y="17" width="5" height="1"/><rect x="2" y="17" width="4" height="1"/><rect x="-6" y="18" width="4" height="1"/><rect x="3" y="18" width="3" height="1"/><rect x="-6" y="19" width="2" height="1"/><rect x="5" y="19" width="2" height="1"/><rect x="-6" y="20" width="1" height="1"/><rect x="6" y="20" width="1" height="1"/><rect x="-7" y="21" width="1" height="1"/><rect x="7" y="21" width="1" height="1"/></g></defs>
<g fill="#ff0000" shape-rendering="crispEdges">
<use href="#star" x="1361" y="225"/>
<use href="#star" x="1299" y="258"/>
<use href="#star" x="1304" y="289"/>
<use href="#star" x="1341" y="280"/>
<use href="#star" x="1400" y="276"/>
<use href="#star" x="1453" y="279"/>
<use href="#star" x="1452" y="288"/>
</g>
<g fill="#000" stroke="#000" stroke-width="0.2" font-size="13" font-weight="bold" font-family="Liberation Sans" letter-spacing="0.4" text-anchor="middle">
<text x="1361.7" y="255.6">4266</text>
<text x="1299.2" y="288.6">4267</text>
<text x="1304.7" y="319.4">4269</text>
<text x="1341.7" y="310.2">4270</text>
<text x="1400.7" y="306.6">4261</text>
<text x="1452.7" y="308.6">4257</text>
<text x="1452.7" y="317.6">4262</text>
</g>
</svg></body></html>
